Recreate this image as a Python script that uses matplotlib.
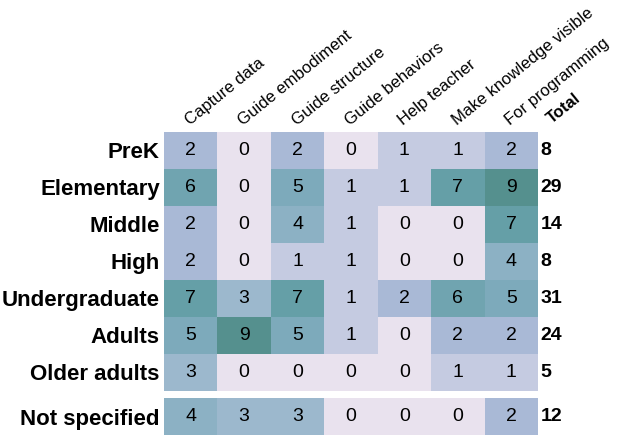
import numpy as np
import matplotlib
matplotlib.use('Agg')
import matplotlib.pyplot as plt
from matplotlib.colors import LinearSegmentedColormap

plt.rcParams['font.family'] = ['Liberation Sans', 'DejaVu Sans']

purposes = ['Capture data', 'Guide embodiment', 'Guide structure', 'Guide behaviors',
            'Help teacher', 'Make knowledge visible', 'For programming']
levels = ['PreK', 'Elementary', 'Middle', 'High', 'Undergraduate', 'Adults',
          'Older adults', 'Not specified']

counts = np.array([
    [2, 0, 2, 0, 1, 1, 2],
    [6, 0, 5, 1, 1, 7, 9],
    [2, 0, 4, 1, 0, 0, 7],
    [2, 0, 1, 1, 0, 0, 4],
    [7, 3, 7, 1, 2, 6, 5],
    [5, 9, 5, 1, 0, 2, 2],
    [3, 0, 0, 0, 0, 1, 1],
    [4, 3, 3, 0, 0, 0, 2],
])
totals = [8, 29, 14, 8, 31, 24, 5, 12]

# colour per count
anchors = [
    (0 / 9, '#e9e2ee'),
    (1 / 9, '#c5cbe1'),
    (2 / 9, '#a8b9d6'),
    (3 / 9, '#9cb8cd'),
    (4 / 9, '#8cb1c4'),
    (5 / 9, '#7daabb'),
    (6 / 9, '#70a4b0'),
    (7 / 9, '#659fa7'),
    (9 / 9, '#55908e'),
]
cmap = LinearSegmentedColormap.from_list('counts', anchors)

fig = plt.figure(figsize=(6.24, 4.36), dpi=100)
ax = fig.add_axes([164 / 624, 1 / 436, 374 / 624, 303 / 436])

gap = 0.19
n_main = len(levels) - 1
x_edges = np.arange(len(purposes) + 1)
# main block, then "Not specified" set apart by a small gap
ax.pcolormesh(x_edges, np.arange(n_main + 1), counts[:n_main], cmap=cmap, vmin=0, vmax=9)
ax.pcolormesh(x_edges, [n_main + gap, n_main + 1 + gap], counts[n_main:], cmap=cmap,
              vmin=0, vmax=9)
ax.set_xlim(0, len(purposes))
ax.set_ylim(n_main + 1 + gap, 0)

y_centers = np.arange(len(levels)) + 0.5
y_centers[-1] += gap
for i, yc in enumerate(y_centers):
    for j in range(len(purposes)):
        ax.text(j + 0.5, yc, str(counts[i, j]), ha='center', va='center',
                fontsize=14, color='black')
    ax.text(len(purposes) + 0.05, yc, str(totals[i]), ha='left', va='center',
            fontsize=14, fontweight='bold', clip_on=False)

ax.set_yticks(y_centers)
ax.set_yticklabels(levels, fontsize=16, fontweight='bold')
ax.tick_params(axis='y', length=0, pad=3)
ax.set_xticks([])

for j, name in enumerate(purposes):
    ax.text(j + 0.48, -0.17, name, rotation=39, rotation_mode='anchor',
            ha='left', va='baseline', fontsize=12, clip_on=False)
ax.text(len(purposes) + 0.26, -0.22, 'Total', rotation=39, rotation_mode='anchor',
        ha='left', va='baseline', fontsize=12, fontweight='bold', clip_on=False)

for side in ax.spines.values():
    side.set_visible(False)

fig.savefig('out.png', dpi=100)
